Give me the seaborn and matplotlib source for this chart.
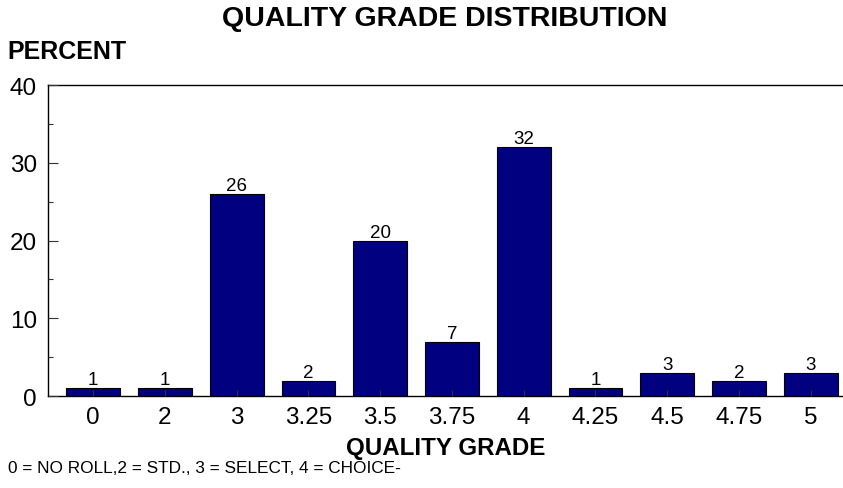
import pandas as pd
import matplotlib.pyplot as plt
import seaborn as sns
from matplotlib.ticker import MultipleLocator

grades = ['0', '2', '3', '3.25', '3.5', '3.75', '4', '4.25', '4.5', '4.75', '5']
percent = [1, 1, 26, 2, 20, 7, 32, 1, 3, 2, 3]

df = pd.DataFrame({'grade': grades, 'percent': percent})

sns.set_style('white')
plt.rcParams['font.family'] = ['Liberation Sans', 'DejaVu Sans']
plt.rcParams['text.color'] = 'black'
plt.rcParams['xtick.color'] = 'black'
plt.rcParams['ytick.color'] = 'black'

fig = plt.figure(figsize=(8.43, 4.89), dpi=100)
ax = fig.add_axes([0.057, 0.188, 0.943, 0.636])

sns.barplot(data=df, x='grade', y='percent', order=grades, color='#000080',
            width=0.75, edgecolor='black', linewidth=0.8, saturation=1, ax=ax)

# value labels on top of bars
for i, v in enumerate(percent):
    ax.annotate(str(v), (i, v), xytext=(0, 0), textcoords='offset points',
                ha='center', va='bottom', fontsize=13.5)

ax.set_xlim(-0.63, 10.45)
ax.set_ylim(0, 40)
ax.yaxis.set_major_locator(MultipleLocator(10))
ax.yaxis.set_minor_locator(MultipleLocator(5))

for s in ['left', 'bottom', 'top']:
    ax.spines[s].set_visible(True)
    ax.spines[s].set_color('black')
    ax.spines[s].set_linewidth(1)
ax.spines['right'].set_visible(False)

ax.tick_params(axis='y', which='major', direction='in', length=7, width=0.8,
               color='#333333', labelsize=17.5, pad=8, left=True)
ax.tick_params(axis='y', which='minor', direction='in', length=3.5, width=0.8,
               color='#333333', left=True)
ax.tick_params(axis='x', direction='in', length=4, width=0.8, color='#333333',
               labelsize=17.5, pad=7, bottom=True)
ax.set_axisbelow(False)

ax.set_xlabel('')
ax.set_ylabel('')

fig.text(0.5285, 0.082, 'QUALITY GRADE', ha='center', va='center',
         fontsize=17.4, fontweight='bold')
fig.text(0.527, 0.961, 'QUALITY GRADE DISTRIBUTION', ha='center', va='center',
         fontsize=20.5, fontweight='bold')
fig.text(0.009, 0.894, 'PERCENT', ha='left', va='center', fontsize=18, fontweight='bold')
fig.text(0.009, 0.041, '0 = NO ROLL,2 = STD., 3 = SELECT, 4 = CHOICE-', ha='left',
         va='center', fontsize=12.4)

fig.savefig('out.png', dpi=100)
plt.close()
